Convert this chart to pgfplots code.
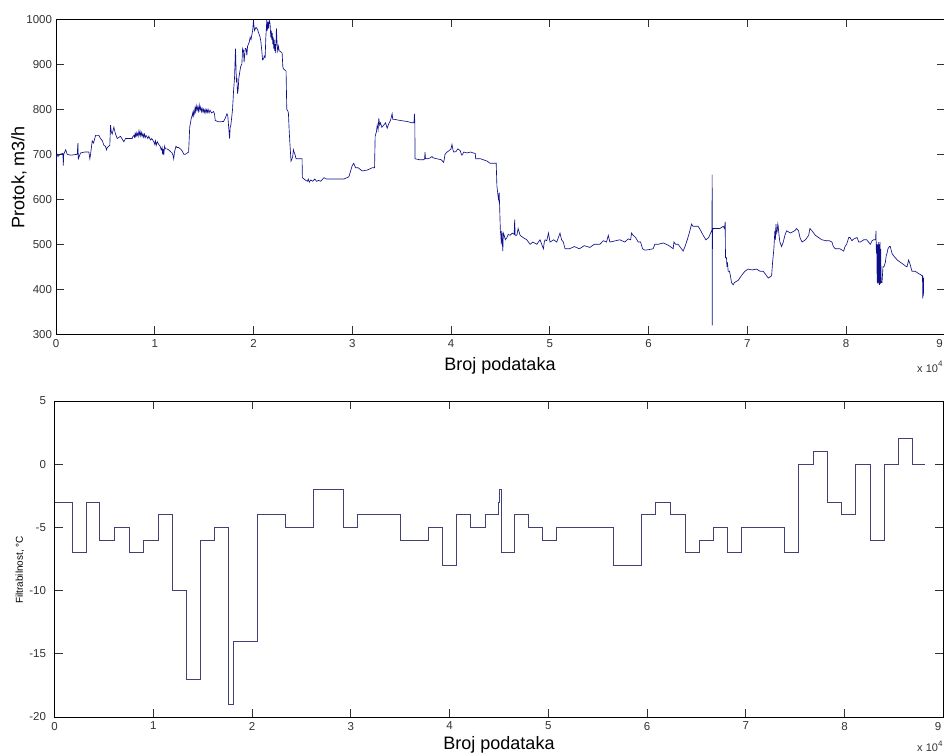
\documentclass[border=0pt]{standalone}
\usepackage{pgfplots}
\pgfplotsset{compat=1.18}
\usepackage{pgfplotstable}
\usepackage{fontspec}
\setmainfont{Liberation Sans}
\definecolor{linec}{RGB}{15,15,140}
\definecolor{stepc}{RGB}{65,65,120}
\definecolor{tickc}{RGB}{50,50,50}

\pgfplotstableread{
x y
0.000 665
0.003 700
0.013 700
0.020 695
0.040 700
0.070 702
0.074 675
0.078 700
0.098 710
0.114 700
0.150 698
0.215 700
0.222 725
0.226 690
0.249 703
0.290 705
0.333 705
0.343 690
0.350 700
0.367 730
0.380 725
0.401 742
0.434 742
0.451 735
0.470 730
0.485 720
0.500 718
0.512 710
0.519 715
0.545 720
0.552 765
0.560 750
0.569 745
0.586 760
0.603 745
0.620 735
0.653 740
0.687 728
0.704 735
0.771 735
0.780 740
0.788 742
0.795 738
0.800 745
0.805 740
0.812 748
0.818 741
0.825 746
0.832 740
0.840 752
0.846 744
0.852 750
0.858 741
0.865 748
0.872 740
0.880 746
0.888 738
0.895 745
0.903 737
0.912 742
0.923 738
0.930 735
0.940 740
0.956 732
0.970 735
0.990 728
1.000 722
1.007 730
1.015 720
1.025 728
1.040 722
1.055 718
1.065 710
1.074 715
1.080 700
1.085 712
1.091 698
1.100 718
1.108 712
1.125 712
1.141 710
1.160 706
1.175 703
1.185 698
1.192 690
1.200 705
1.215 718
1.225 715
1.242 715
1.260 712
1.276 708
1.295 700
1.310 700
1.343 705
1.354 760
1.370 780
1.377 785
1.385 792
1.390 782
1.394 795
1.400 790
1.408 803
1.414 795
1.420 808
1.428 798
1.435 805
1.442 796
1.450 810
1.457 798
1.465 805
1.472 795
1.480 802
1.488 794
1.495 800
1.502 793
1.510 800
1.518 792
1.525 799
1.532 793
1.540 800
1.550 792
1.560 798
1.575 792
1.596 795
1.605 790
1.613 775
1.650 772
1.697 773
1.714 780
1.731 790
1.740 785
1.747 765
1.758 735
1.764 760
1.771 765
1.788 800
1.798 840
1.808 870
1.818 935
1.822 900
1.827 860
1.832 870
1.838 835
1.845 845
1.852 870
1.859 880
1.870 895
1.882 900
1.890 935
1.899 930
1.905 905
1.916 935
1.925 935
1.933 920
1.940 940
1.949 945
1.958 950
1.966 960
1.975 955
1.983 965
1.992 975
2.000 998
2.005 985
2.010 975
2.025 982
2.034 980
2.045 975
2.051 970
2.060 965
2.067 960
2.075 950
2.084 930
2.092 910
2.101 912
2.110 918
2.118 915
2.125 960
2.135 998
2.140 975
2.146 995
2.152 980
2.160 998
2.168 990
2.175 960
2.180 975
2.185 955
2.190 970
2.195 945
2.200 960
2.205 935
2.210 955
2.215 930
2.220 945
2.225 925
2.232 980
2.238 950
2.245 930
2.253 940
2.260 930
2.275 928
2.290 925
2.297 895
2.303 890
2.320 887
2.330 885
2.337 800
2.350 795
2.354 790
2.362 750
2.370 720
2.380 685
2.390 690
2.397 695
2.404 710
2.411 705
2.420 700
2.431 690
2.460 690
2.492 690
2.495 648
2.512 645
2.530 642
2.545 640
2.555 645
2.565 638
2.580 643
2.600 640
2.620 645
2.640 640
2.660 642
2.680 640
2.714 648
2.740 645
2.800 645
2.870 645
2.916 645
2.966 650
3.000 675
3.015 680
3.034 670
3.060 670
3.101 663
3.152 665
3.202 670
3.226 670
3.232 740
3.245 750
3.253 765
3.262 755
3.269 780
3.278 765
3.286 770
3.300 760
3.320 765
3.337 770
3.354 758
3.370 768
3.387 775
3.404 790
3.410 778
3.421 778
3.488 775
3.556 773
3.606 770
3.625 770
3.630 790
3.634 770
3.636 690
3.680 688
3.724 688
3.733 690
3.737 705
3.742 690
3.758 690
3.790 692
3.808 695
3.820 692
3.859 690
3.900 688
3.926 682
3.940 700
3.960 705
3.980 708
4.000 712
4.010 722
4.020 710
4.027 705
4.050 706
4.070 712
4.094 708
4.105 700
4.111 698
4.130 705
4.162 703
4.200 705
4.225 703
4.246 702
4.250 690
4.263 690
4.300 690
4.364 685
4.397 680
4.458 680
4.465 630
4.475 610
4.481 600
4.488 615
4.492 590
4.500 530
4.505 520
4.510 500
4.515 530
4.520 505
4.525 485
4.530 525
4.539 520
4.550 510
4.566 515
4.580 522
4.599 520
4.620 525
4.640 522
4.645 555
4.650 520
4.667 520
4.680 535
4.700 520
4.730 515
4.768 510
4.801 500
4.830 505
4.869 500
4.902 510
4.936 490
4.945 505
4.953 510
4.970 508
4.987 525
5.003 505
5.040 510
5.071 505
5.104 525
5.120 510
5.138 505
5.155 490
5.200 490
5.250 495
5.300 490
5.350 497
5.407 493
5.450 500
5.508 500
5.542 508
5.575 505
5.593 520
5.609 505
5.650 507
5.710 510
5.760 505
5.795 512
5.820 510
5.828 525
5.845 520
5.870 515
5.896 505
5.920 505
5.940 490
5.963 487
6.000 488
6.047 490
6.064 500
6.100 500
6.149 503
6.200 498
6.233 493
6.250 490
6.258 505
6.275 500
6.300 500
6.334 490
6.351 485
6.370 495
6.385 505
6.400 515
6.419 530
6.436 545
6.450 540
6.503 540
6.530 530
6.554 520
6.581 510
6.610 515
6.639 530
6.643 530
6.645 655
6.646 320
6.648 530
6.655 535
6.700 535
6.723 535
6.757 540
6.770 535
6.777 550
6.780 470
6.790 470
6.795 450
6.800 460
6.807 440
6.820 440
6.830 430
6.841 415
6.858 410
6.870 415
6.909 420
6.940 430
6.976 440
7.010 445
7.050 443
7.095 445
7.130 440
7.162 440
7.190 432
7.213 425
7.247 430
7.257 460
7.270 490
7.280 530
7.285 510
7.291 545
7.298 525
7.304 530
7.310 545
7.314 540
7.322 520
7.331 505
7.348 495
7.365 505
7.382 520
7.399 530
7.437 525
7.480 530
7.500 535
7.520 530
7.534 515
7.555 505
7.590 510
7.622 520
7.635 535
7.656 530
7.690 520
7.723 515
7.757 510
7.800 508
7.830 508
7.858 505
7.872 495
7.893 490
7.939 490
7.977 485
7.990 495
8.007 500
8.028 515
8.041 515
8.060 508
8.080 512
8.112 515
8.130 505
8.145 505
8.180 510
8.210 510
8.247 500
8.265 508
8.280 510
8.300 510
8.304 530
8.308 480
8.312 500
8.316 415
8.320 500
8.324 412
8.328 505
8.332 415
8.336 500
8.340 410
8.344 505
8.348 412
8.352 490
8.356 415
8.365 415
8.375 450
8.385 450
8.399 460
8.408 475
8.416 480
8.425 490
8.440 495
8.449 495
8.466 480
8.480 475
8.500 470
8.520 465
8.550 460
8.585 455
8.600 452
8.618 450
8.635 465
8.650 455
8.669 440
8.700 440
8.736 435
8.760 432
8.770 430
8.775 430
8.778 380
8.781 428
8.784 385
8.787 425
}\protok

\pgfplotstableread{
x y
0 -3
0.18 -7
0.32 -3
0.46 -6
0.61 -5
0.755 -7
0.90 -6
1.05 -4
1.19 -10
1.333 -17
1.48 -6
1.62 -5
1.763 -19
1.807 -14
2.058 -4
2.34 -5
2.626 -2
2.924 -5
3.066 -4
3.50 -6
3.784 -5
3.926 -8
4.068 -4
4.216 -5
4.36 -4
4.50 -3
4.51 -2
4.53 -7
4.653 -4
4.795 -5
4.937 -6
5.083 -5
5.66 -8
5.946 -4
6.09 -3
6.237 -4
6.386 -7
6.53 -6
6.673 -5
6.815 -7
6.957 -5
7.394 -7
7.536 0
7.68 1
7.824 -3
7.97 -4
8.115 0
8.26 -6
8.406 0
8.55 2
8.69 0
8.81 0
}\filtr

\pgfplotsset{
  mlab/.style={
    scale only axis,
    anchor=south west,
    xmin=0, xmax=9,
    xtick={0,1,...,9},
    xticklabels={0,1,2,3,4,5,6,7,8,\makebox[0pt][r]{9\hspace{2pt}}},
    tick align=inside,
    major tick length=8pt,
    axis line style={black, line width=0.7pt},
    every tick/.style={tickc, line width=0.7pt},
    /pgf/number format/assume math mode=true,
    /pgf/number format/1000 sep={},
    ticklabel style={font=\fontsize{11.5}{11.5}\selectfont, text=tickc},
    xticklabel style={yshift=-1.5pt},
    scaled ticks=false,
  }
}

\begin{document}
\begin{tikzpicture}
\path[use as bounding box] (0pt,0pt) rectangle (944pt,753pt);
\begin{axis}[mlab,
  at={(56pt,418.7pt)}, width=888.7pt, height=315pt,
  ymin=300, ymax=1000, ytick={300,400,...,1000},
  yticklabel style={xshift=-0.5pt},
]
\addplot[linec, line width=0.65pt] table[x=x,y=y] {\protok};
\end{axis}
\begin{axis}[mlab,
  at={(54.5pt,36pt)}, width=888.8pt, height=316pt,
  ymin=-20, ymax=5, ytick={-20,-15,...,5},
  yticklabel style={xshift=-5pt},
]
\addplot[stepc, line width=0.9pt, const plot mark left] table[x=x,y=y] {\filtr};
\end{axis}
% axis titles
\node[font=\fontsize{18}{18}\selectfont, anchor=center] at (500pt,387.5pt) {Broj podataka};
\node[font=\fontsize{18}{18}\selectfont, anchor=center] at (499pt,8.5pt) {Broj podataka};
\node[font=\fontsize{18}{18}\selectfont, rotate=90, anchor=center] at (19pt,576pt) {Protok, m3/h};
\node[font=\fontsize{10}{10}\selectfont, rotate=90, anchor=center] at (20pt,183pt) {Filtrabilnost, °C};
% exponent labels
\node[font=\fontsize{11}{11}\selectfont, anchor=west, text=tickc, inner sep=0pt] at (917pt,386pt) {x 10\raisebox{0.5em}{\fontsize{8}{8}\selectfont 4}};
\node[font=\fontsize{11}{11}\selectfont, anchor=west, text=tickc, inner sep=0pt] at (917pt,6.5pt) {x 10\raisebox{0.5em}{\fontsize{8}{8}\selectfont 4}};
\end{tikzpicture}
\end{document}
